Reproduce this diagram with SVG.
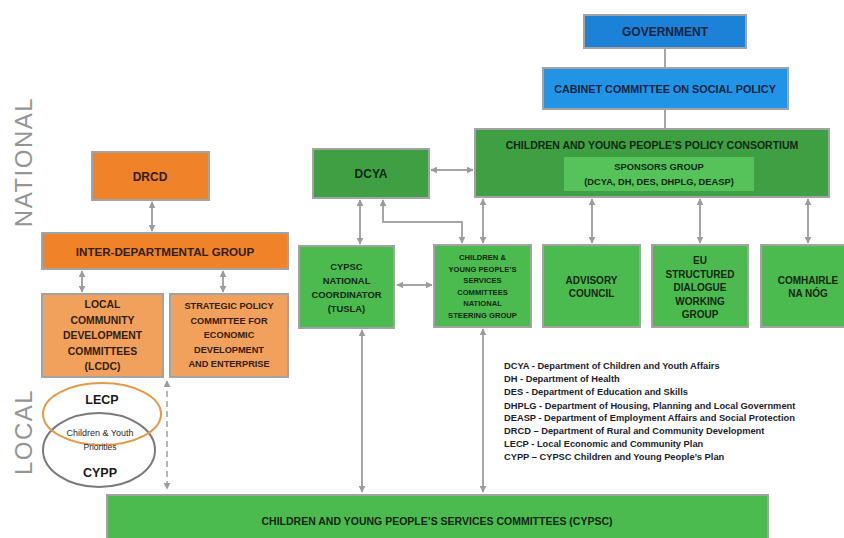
<svg xmlns="http://www.w3.org/2000/svg" width="844" height="538" viewBox="0 0 844 538">
<defs>
<marker id="ah" viewBox="0 0 10 10" refX="9" refY="5" markerWidth="7" markerHeight="7" markerUnits="userSpaceOnUse" orient="auto-start-reverse">
<path d="M0,0 L10,5 L0,10 z" fill="#9c9c9c"/>
</marker>
<style>
.bx{stroke:#a3a3a3;stroke-width:2}
.blue1{fill:#1b82d8}
.blue2{fill:#2194e6}
.g1{fill:#3ea043}
.g2{fill:#52c256}
.g3{fill:#4cbb4f}
.o1{fill:#f0822a}
.o2{fill:#f2a15c}
.t{font-family:"Liberation Sans",Arial,sans-serif;font-weight:bold;text-anchor:middle;dominant-baseline:central}
.tb{fill:#122544}
.tg{fill:#132815}
.to{fill:#33200f}
.c{stroke:#a6a6a6;stroke-width:2;fill:none}
.ca{stroke:#a6a6a6;stroke-width:2;fill:none;marker-start:url(#ah);marker-end:url(#ah)}
.cd{stroke:#a6a6a6;stroke-width:1.6;fill:none;stroke-dasharray:6,4;marker-start:url(#ah);marker-end:url(#ah)}
.lg{font-family:"Liberation Sans",Arial,sans-serif;font-weight:bold;font-size:9.3px;fill:#1c1c2c;dominant-baseline:central}
.side{font-family:"Liberation Sans",Arial,sans-serif;font-size:24px;fill:#959595;text-anchor:middle;letter-spacing:1.5px}
</style>
</defs>
<rect width="844" height="538" fill="#ffffff"/>

<text class="side" transform="translate(32,162) rotate(-90)">NATIONAL</text>
<text class="side" transform="translate(32,432) rotate(-90)">LOCAL</text>

<g id="connectors">
<line class="c" x1="665" y1="48" x2="665" y2="68"/>
<line class="c" x1="665" y1="109" x2="665" y2="129"/>
<line class="ca" x1="152" y1="202" x2="152" y2="231"/>
<line class="ca" x1="82" y1="271" x2="82" y2="292"/>
<line class="ca" x1="223" y1="271" x2="223" y2="292"/>
<line class="cd" x1="167" y1="381" x2="167" y2="489"/>
<line class="ca" x1="431" y1="170" x2="473" y2="170"/>
<line class="ca" x1="360" y1="200" x2="360" y2="244"/>
<polyline class="ca" points="383,200 383,222 462,222 462,243"/>
<line class="ca" x1="483" y1="199" x2="483" y2="243"/>
<line class="ca" x1="397" y1="285" x2="432" y2="285"/>
<line class="ca" x1="592" y1="199" x2="592" y2="243"/>
<line class="ca" x1="700" y1="199" x2="700" y2="243"/>
<line class="ca" x1="808" y1="199" x2="808" y2="243"/>
<line class="ca" x1="362" y1="330" x2="362" y2="492"/>
<line class="ca" x1="483" y1="329" x2="483" y2="492"/>
</g>

<g id="government">
<rect class="bx blue1" x="584" y="15" width="162" height="33"/>
<text class="t tb" x="665" y="31.5" font-size="12">GOVERNMENT</text>
</g>
<g id="cabinet">
<rect class="bx blue2" x="543" y="68" width="245" height="41"/>
<text class="t tb" x="665" y="88.5" font-size="10.8">CABINET COMMITTEE ON SOCIAL POLICY</text>
</g>
<g id="consortium">
<rect class="bx g1" x="475" y="129" width="354" height="68"/>
<text class="t tg" x="652" y="145" font-size="10.5">CHILDREN AND YOUNG PEOPLE’S POLICY CONSORTIUM</text>
<rect x="564" y="157" width="190" height="34" fill="#55c25a"/>
<text class="t tg" x="659" y="167" font-size="9.3">SPONSORS GROUP</text>
<text class="t tg" x="659" y="182" font-size="9.3">(DCYA, DH, DES, DHPLG, DEASP)</text>
</g>
<g id="dcya">
<rect class="bx g1" x="313" y="149" width="116" height="49"/>
<text class="t tg" x="371" y="174" font-size="12">DCYA</text>
</g>
<g id="drcd">
<rect class="bx o1" x="92" y="152" width="117" height="48"/>
<text class="t to" x="150" y="177" font-size="12">DRCD</text>
</g>
<g id="idg">
<rect class="bx o1" x="42" y="233" width="246" height="36"/>
<text class="t to" x="165" y="251.5" font-size="11.6">INTER-DEPARTMENTAL GROUP</text>
</g>
<g id="lcdc">
<rect class="bx o2" x="42" y="294" width="121" height="83"/>
<text class="t to" font-size="10.4"><tspan x="102.5" y="304">LOCAL</tspan><tspan x="102.5" y="319.5">COMMUNITY</tspan><tspan x="102.5" y="335">DEVELOPMENT</tspan><tspan x="102.5" y="350.5">COMMITTEES</tspan><tspan x="102.5" y="366">(LCDC)</tspan></text>
</g>
<g id="spc">
<rect class="bx o2" x="170" y="294" width="118" height="83"/>
<text class="t to" font-size="9.2"><tspan x="229" y="306">STRATEGIC POLICY</tspan><tspan x="229" y="320.5">COMMITTEE FOR</tspan><tspan x="229" y="335">ECONOMIC</tspan><tspan x="229" y="349.5">DEVELOPMENT</tspan><tspan x="229" y="364">AND ENTERPRISE</tspan></text>
</g>
<g id="coordinator">
<rect class="bx g3" x="299" y="246" width="95" height="82"/>
<text class="t tg" font-size="9.4"><tspan x="346.5" y="266">CYPSC</tspan><tspan x="346.5" y="280">NATIONAL</tspan><tspan x="346.5" y="294">COORDINATOR</tspan><tspan x="346.5" y="308">(TUSLA)</tspan></text>
</g>
<g id="steering">
<rect class="bx g3" x="434" y="245" width="97" height="82"/>
<text class="t tg" font-size="7.6"><tspan x="482.5" y="257">CHILDREN &amp;</tspan><tspan x="482.5" y="268.5">YOUNG PEOPLE’S</tspan><tspan x="482.5" y="280">SERVICES</tspan><tspan x="482.5" y="291.5">COMMITTEES</tspan><tspan x="482.5" y="303">NATIONAL</tspan><tspan x="482.5" y="314.5">STEERING GROUP</tspan></text>
</g>
<g id="advisory">
<rect class="bx g3" x="543" y="245" width="97" height="82"/>
<text class="t tg" font-size="10"><tspan x="591.5" y="280">ADVISORY</tspan><tspan x="591.5" y="293">COUNCIL</tspan></text>
</g>
<g id="eu">
<rect class="bx g3" x="652" y="245" width="96" height="82"/>
<text class="t tg" font-size="10"><tspan x="700" y="260">EU</tspan><tspan x="700" y="273.5">STRUCTURED</tspan><tspan x="700" y="287">DIALOGUE</tspan><tspan x="700" y="300.5">WORKING</tspan><tspan x="700" y="314">GROUP</tspan></text>
</g>
<g id="comhairle">
<rect class="bx g3" x="761" y="245" width="95" height="82"/>
<text class="t tg" font-size="10"><tspan x="808" y="280">COMHAIRLE</tspan><tspan x="808" y="293">NA NÓG</tspan></text>
</g>
<g id="cypsc">
<rect class="bx g3" x="107" y="495" width="661" height="50"/>
<text class="t tg" x="437" y="521" font-size="10.5">CHILDREN AND YOUNG PEOPLE’S SERVICES COMMITTEES (CYPSC)</text>
</g>
<g id="plans">
<ellipse cx="99" cy="450" rx="56" ry="37" fill="none" stroke="#7a7a7a" stroke-width="2"/>
<ellipse cx="102" cy="414" rx="59" ry="31" fill="none" stroke="#e59a4a" stroke-width="2"/>
<text class="t" x="102" y="400" font-size="12.5" fill="#1a1a1a">LECP</text>
<text class="t" x="100" y="433" font-size="9" fill="#2a2a2a" style="font-weight:normal">Children &amp; Youth</text>
<text class="t" x="100" y="447" font-size="8.5" fill="#2a2a2a" style="font-weight:normal">Priorities</text>
<text class="t" x="100" y="473" font-size="12.5" fill="#1a1a1a">CYPP</text>
</g>
<g id="legend">
<text class="lg" x="504" y="366">DCYA - Department of Children and Youth Affairs</text>
<text class="lg" x="504" y="379">DH - Department of Health</text>
<text class="lg" x="504" y="392">DES - Department of Education and Skills</text>
<text class="lg" x="504" y="405.5">DHPLG - Department of Housing, Planning and Local Government</text>
<text class="lg" x="504" y="418">DEASP - Department of Employment Affairs and Social Protection</text>
<text class="lg" x="504" y="431">DRCD – Department of Rural and Community Development</text>
<text class="lg" x="504" y="444">LECP - Local Economic and Community Plan</text>
<text class="lg" x="504" y="457">CYPP – CYPSC Children and Young People’s Plan</text>
</g>
</svg>
